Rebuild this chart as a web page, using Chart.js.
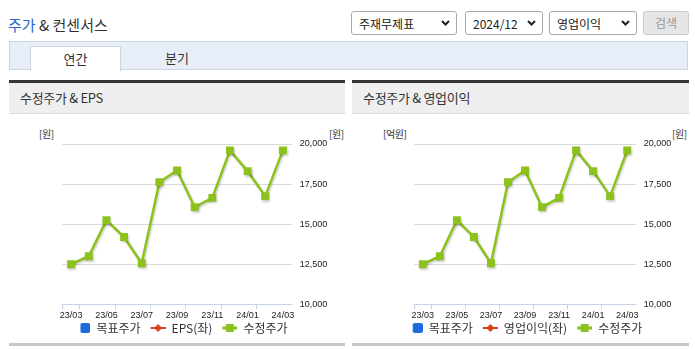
<!DOCTYPE html>
<html>
<head>
<meta charset="utf-8">
<script src="https://cdn.jsdelivr.net/npm/chart.js@4.4.1/dist/chart.umd.min.js"></script>
<style>
  html, body { margin: 0; padding: 0; background: #fff; }
  body { width: 695px; height: 349px; position: relative; overflow: hidden; font-family: "Noto Sans CJK KR", "Noto Sans", sans-serif; color: #333; }
  .abs { position: absolute; }
  #title { left: 8px; top: 14px; font-size: 15px; line-height: 22px; letter-spacing: 0; }
  #title .blue { color: #2a63d4; }
  select, .btn {
    position: absolute; top: 11px; height: 24px; box-sizing: border-box;
    border: 1px solid #a8a8a8; border-radius: 3px; font-family: inherit; font-size: 12px; color: #222;
    background: #fff; padding: 0 0 0 7px; margin: 0;
    -webkit-appearance: none; appearance: none;
    background-image: url("data:image/svg+xml;utf8,<svg xmlns='http://www.w3.org/2000/svg' width='9' height='6'><path d='M1 1l3.5 3.5L8 1' stroke='%23222' stroke-width='2' fill='none'/></svg>");
    background-repeat: no-repeat; background-position: right 6px center;
  }
  .btn { background: #e6e6e6; border-color: #cbcbcb; color: #9a9a9a; text-align: center; line-height: 22px; padding: 0; }
  #tabbar { left: 9px; top: 41px; width: 677px; height: 27px; background: #e8eef8; border: 1px solid #cad4e3; }
  #tabOn { left: 30px; top: 46px; width: 89px; height: 24px; background: #fff; border: 1px solid #cad4e3; border-bottom: none; font-size: 13px; text-align: center; line-height: 24px; }
  #tabOff { left: 165px; top: 46px; font-size: 13px; line-height: 24px; }
  .panel { top: 80px; height: 266px; }
  .phead { position: absolute; left: 0; right: 0; top: 0; height: 30px; border-top: 3px solid #333; border-bottom: 1px solid #dadada; background: #efefef; font-size: 13px; line-height: 30px; padding-left: 11px; letter-spacing: -0.3px; }
  .pfoot { position: absolute; left: 0; right: 0; bottom: 0; height: 3px; background: #c8c8c8; }
  .unit { position: absolute; top: 126px; font-size: 10px; line-height: 16px; letter-spacing: -0.4px; color: #333; }
  canvas { position: absolute; }
</style>
</head>
<body>
<div id="title" class="abs"><span class="blue">주가</span> &amp; 컨센서스</div>
<select style="left:351px;width:106px"><option>주재무제표</option></select>
<select style="left:465px;width:78px"><option>2024/12</option></select>
<select style="left:549px;width:88px"><option>영업이익</option></select>
<div class="btn" style="left:643px;width:46px">검색</div>

<div id="tabbar" class="abs"></div>
<div id="tabOn" class="abs">연간</div>
<div id="tabOff" class="abs">분기</div>

<div class="panel abs" style="left:9px;width:336px"><div class="phead">수정주가 &amp; EPS</div><div class="pfoot"></div></div>
<div class="panel abs" style="left:352px;width:337px"><div class="phead">수정주가 &amp; 영업이익</div><div class="pfoot"></div></div>

<span class="unit" style="left:39px">[원]</span>
<span class="unit" style="left:329px">[원]</span>
<span class="unit" style="left:383px">[억원]</span>
<span class="unit" style="left:672px">[원]</span>

<canvas id="c1" width="336" height="229" style="left:9px;top:114px"></canvas>
<canvas id="c2" width="337" height="229" style="left:352px;top:114px"></canvas>

<script>
const MONTHS = ['23/03','23/04','23/05','23/06','23/07','23/08','23/09','23/10','23/11','23/12','24/01','24/02','24/03'];
const ADJ_PRICE = [12500, 13000, 15250, 14200, 12560, 17620, 18350, 16060, 16640, 19600, 18310, 16750, 19600];
const TARGET_PRICE = [];
const EPS = [];
const OP_PROFIT = [];
const Y_MIN = 10000;
const Y_MAX = 20000;
const Y_STEP = 2500;

const GREEN = '#8cc21b';
const RED = '#d6431c';
const BLUE = '#1e6cd9';
const AXIS_BLUE = '#c3d3e3';
const TICK_FONT = { family: '"Liberation Sans", Arial, sans-serif', size: 9 };

// legend markers: 10px gap on the left, marker in the last 15px
function legendMarker(kind) {
  let c = document.createElement('canvas');
  c.width = 25; c.height = 12;
  let g = c.getContext('2d');
  g.translate(10, 0);
  if (kind === 'box') {
    g.fillStyle = BLUE;
    g.beginPath();
    g.roundRect(5, 1, 10, 10, 2);
    g.fill();
  } else if (kind === 'diamond') {
    g.strokeStyle = RED; g.lineWidth = 2;
    g.beginPath(); g.moveTo(0, 6); g.lineTo(15, 6); g.stroke();
    g.fillStyle = RED;
    g.beginPath(); g.moveTo(7.5, 2); g.lineTo(11.5, 6); g.lineTo(7.5, 10); g.lineTo(3.5, 6); g.closePath(); g.fill();
  } else {
    g.strokeStyle = GREEN; g.lineWidth = 3;
    g.beginPath(); g.moveTo(0, 6); g.lineTo(15, 6); g.stroke();
    g.fillStyle = GREEN;
    g.fillRect(3.5, 2, 8, 8);
  }
  return c;
}

const lineShadow = {
  id: 'lineShadow',
  beforeDatasetDraw(chart) {
    let c = chart.ctx;
    c.save();
    c.shadowColor = 'rgba(0,0,0,0.2)';
    c.shadowBlur = 2;
    c.shadowOffsetX = 1;
    c.shadowOffsetY = 1.5;
  },
  afterDatasetDraw(chart) { chart.ctx.restore(); }
};

function PrintChart(canvas, leftName, leftData, leftAxisWidth) {
  let markers = [legendMarker('box'), legendMarker('diamond'), legendMarker('square')];
  new Chart(canvas, {
    type: 'line',
    data: {
      labels: MONTHS,
      datasets: [
        { label: '목표주가', data: TARGET_PRICE, yAxisID: 'y', borderColor: BLUE, backgroundColor: BLUE },
        { label: leftName, data: leftData, yAxisID: 'yL', borderColor: RED, backgroundColor: RED },
        {
          label: '수정주가', data: ADJ_PRICE, yAxisID: 'y',
          borderColor: GREEN, backgroundColor: GREEN, borderWidth: 2.5, tension: 0,
          pointStyle: 'rect', pointRadius: 5.6, pointBorderWidth: 0, pointBackgroundColor: GREEN
        }
      ]
    },
    options: {
      responsive: false,
      animation: false,
      events: [],
      layout: { padding: { left: -1, top: 30, right: 0, bottom: -1 } },
      plugins: {
        tooltip: { enabled: false },
        legend: {
          position: 'bottom',
          labels: {
            usePointStyle: true,
            pointStyleWidth: 25,
            padding: 0,
            color: '#333',
            font: { family: '"Noto Sans CJK KR", sans-serif', size: 12 },
            generateLabels: (chart) => {
              let items = Chart.defaults.plugins.legend.labels.generateLabels(chart);
              items.forEach((it, i) => { it.pointStyle = markers[i]; it.rotation = 0; });
              return items;
            }
          }
        }
      },
      scales: {
        x: {
          offset: true,
          grid: {
            offset: true, drawOnChartArea: false, tickLength: 5,
            color: (ctx) => (ctx.index === 0 || ctx.index % 2 === 1) ? AXIS_BLUE : 'rgba(0,0,0,0)'
          },
          border: { color: AXIS_BLUE },
          ticks: {
            autoSkip: false, maxRotation: 0, padding: 1, color: '#222',
            font: TICK_FONT,
            callback: (v, i) => (i % 2 === 0 ? MONTHS[i] : '')
          },
          afterFit: (s) => { s.height = 17.7; }
        },
        y: {
          position: 'right',
          min: Y_MIN, max: Y_MAX,
          grid: { color: '#dadada', drawTicks: false },
          border: { display: false },
          ticks: {
            stepSize: Y_STEP, padding: 8, color: '#222',
            font: TICK_FONT,
            callback: (v) => v.toLocaleString('en-US')
          },
          afterFit: (s) => { s.width = 53.3; }
        },
        yL: {
          position: 'left',
          grid: { display: false },
          border: { display: false },
          ticks: { display: false },
          afterFit: (s) => { s.width = leftAxisWidth; }
        }
      }
    },
    plugins: [lineShadow]
  });
}

PrintChart(document.getElementById('c1'), 'EPS(좌)', EPS, 54.3);
PrintChart(document.getElementById('c2'), '영업이익(좌)', OP_PROFIT, 63.3);
</script>
</body>
</html>
